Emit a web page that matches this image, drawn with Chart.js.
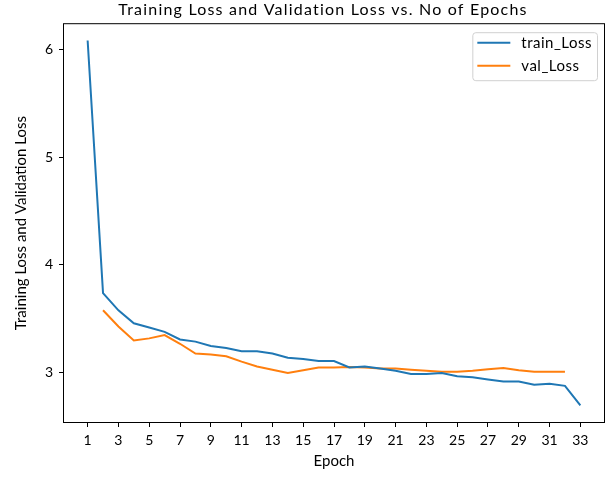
<!DOCTYPE html>
<html>
<head>
<meta charset="utf-8">
<script src="https://cdn.jsdelivr.net/npm/chart.js@4/dist/chart.umd.min.js"></script>
<style>
  body { margin: 0; background: #fff; }
  #wrap { width: 611px; height: 477px; }
</style>
</head>
<body>
<div id="wrap"><canvas id="lossChart"></canvas></div>
<script>
// Data
const trainEpochs = [1, 2, 3, 4, 5, 6, 7, 8, 9, 10, 11, 12, 13, 14, 15, 16, 17,
  18, 19, 20, 21, 22, 23, 24, 25, 26, 27, 28, 29, 30, 31, 32, 33];
const trainLoss = [6.08, 3.74, 3.58, 3.46, 3.42, 3.38, 3.31, 3.29, 3.25, 3.23, 3.20,
  3.20, 3.18, 3.14, 3.13, 3.11, 3.11, 3.05, 3.06, 3.04, 3.02, 2.99, 2.99, 3.00,
  2.97, 2.96, 2.94, 2.92, 2.92, 2.89, 2.90, 2.88, 2.70];
const valEpochs = [2, 3, 4, 5, 6, 7, 8, 9, 10, 11, 12, 13, 14, 15, 16, 17, 18,
  19, 20, 21, 22, 23, 24, 25, 26, 27, 28, 29, 30, 31, 32];
const valLoss = [3.58, 3.43, 3.30, 3.32, 3.35, 3.27, 3.18, 3.17, 3.155, 3.105, 3.06,
  3.03, 3.00, 3.025, 3.05, 3.05, 3.055, 3.05, 3.04, 3.04, 3.03, 3.02, 3.01, 3.01,
  3.02, 3.035, 3.045, 3.025, 3.01, 3.01, 3.01];
const xTicks = [1, 3, 5, 7, 9, 11, 13, 15, 17, 19, 21, 23, 25, 27, 29, 31, 33];
const yTicks = [3, 4, 5, 6];

const FONT = 'Lato, "Open Sans", sans-serif';

// box around the plot (top/right spines too)
const framePlugin = {
  id: 'frame',
  afterLayout(chart) {
    // reference title is wider than Lato and centred over the axes, not the canvas
    const tb = chart.titleBlock;
    if (tb && !tb._spaced) {
      const orig = tb.draw.bind(tb);
      tb.draw = function() {
        const a = chart.chartArea;
        chart.ctx.save();
        chart.ctx.letterSpacing = '1.2px';
        chart.ctx.translate((a.left + a.right) / 2 - chart.width / 2 - 8, 0);
        orig();
        chart.ctx.restore();
      };
      tb._spaced = true;
    }
  },
  afterDraw(chart) {
    const { ctx, chartArea: a } = chart;
    ctx.save();
    ctx.strokeStyle = '#000';
    ctx.lineWidth = 1;
    ctx.strokeRect(a.left + 0.5, a.top + 0.5, a.right - a.left - 1, a.bottom - a.top - 1);
    ctx.restore();
  }
};

// matplotlib-like legend in the upper right
const legendPlugin = {
  id: 'mplLegend',
  afterDraw(chart) {
    const { ctx, chartArea: a } = chart;
    const sets = chart.data.datasets;
    ctx.save();
    ctx.font = '15px ' + FONT;
    ctx.letterSpacing = '0.5px';
    const textW = Math.max(...sets.map(d => ctx.measureText(d.label).width));
    const pad = 5, handle = 33, gap = 11, rowH = 23;
    const w = pad + handle + gap + textW + pad;
    const h = 48;
    const x = a.right - 8 - w;
    const y = a.top + 9;
    ctx.beginPath();
    ctx.roundRect(x + 0.5, y + 0.5, w, h, 3);
    ctx.fillStyle = 'rgba(255,255,255,0.8)';
    ctx.fill();
    ctx.strokeStyle = '#d0d0d0';
    ctx.lineWidth = 1;
    ctx.stroke();
    sets.forEach((d, i) => {
      const cy = y + 10.5 + i * rowH;
      ctx.beginPath();
      ctx.moveTo(x + pad, cy);
      ctx.lineTo(x + pad + handle, cy);
      ctx.strokeStyle = d.borderColor;
      ctx.lineWidth = 2;
      ctx.stroke();
      ctx.fillStyle = '#000';
      ctx.textBaseline = 'middle';
      ctx.fillText(d.label, x + pad + handle + gap, cy);
    });
    ctx.restore();
  }
};

const ctx = document.getElementById('lossChart').getContext('2d');
new Chart(ctx, {
  type: 'line',
  data: {
    datasets: [{
      label: 'train_Loss',
      data: trainEpochs.map((e, i) => ({ x: e, y: trainLoss[i] })),
      borderColor: '#1f77b4',
      borderWidth: 2,
      pointRadius: 0,
      tension: 0
    }, {
      label: 'val_Loss',
      data: valEpochs.map((e, i) => ({ x: e, y: valLoss[i] })),
      borderColor: '#ff7f0e',
      borderWidth: 2,
      pointRadius: 0,
      tension: 0
    }]
  },
  options: {
    responsive: true,
    maintainAspectRatio: false,
    animation: false,
    layout: { padding: { left: 0, right: 6, top: 0, bottom: 0 } },
    plugins: {
      legend: { display: false },
      tooltip: { enabled: false },
      title: {
        display: true,
        text: 'Training Loss and Validation Loss vs. No of Epochs',
        color: '#000',
        font: { family: FONT, size: 16, weight: 'normal' },
        padding: { top: 0, bottom: 4 }
      }
    },
    scales: {
      x: {
        type: 'linear',
        min: -0.6,
        max: 34.6,
        afterBuildTicks: s => { s.ticks = xTicks.map(v => ({ value: v })); },
        afterFit: s => { s.height = 54; },
        border: { display: false },
        grid: { drawOnChartArea: false, drawTicks: true, tickLength: 4, tickColor: '#000' },
        ticks: { color: '#000', font: { family: FONT, size: 14 }, padding: 5, maxRotation: 0 },
        title: {
          display: true, text: 'Epoch', color: '#000',
          font: { family: FONT, size: 15 }, padding: { top: 0, bottom: 7 }
        }
      },
      y: {
        min: 2.536,
        max: 6.24,
        afterBuildTicks: s => { s.ticks = yTicks.map(v => ({ value: v })); },
        afterFit: s => { s.width = 63; },
        border: { display: false },
        grid: { drawOnChartArea: false, drawTicks: true, tickLength: 4, tickColor: '#000' },
        ticks: { color: '#000', font: { family: FONT, size: 14 }, padding: 6 },
        title: {
          display: true, text: 'Training Loss and Validation Loss', color: '#000',
          font: { family: FONT, size: 15 }, padding: { top: 12, bottom: 0 }
        }
      }
    }
  },
  plugins: [framePlugin, legendPlugin]
});
</script>
</body>
</html>
